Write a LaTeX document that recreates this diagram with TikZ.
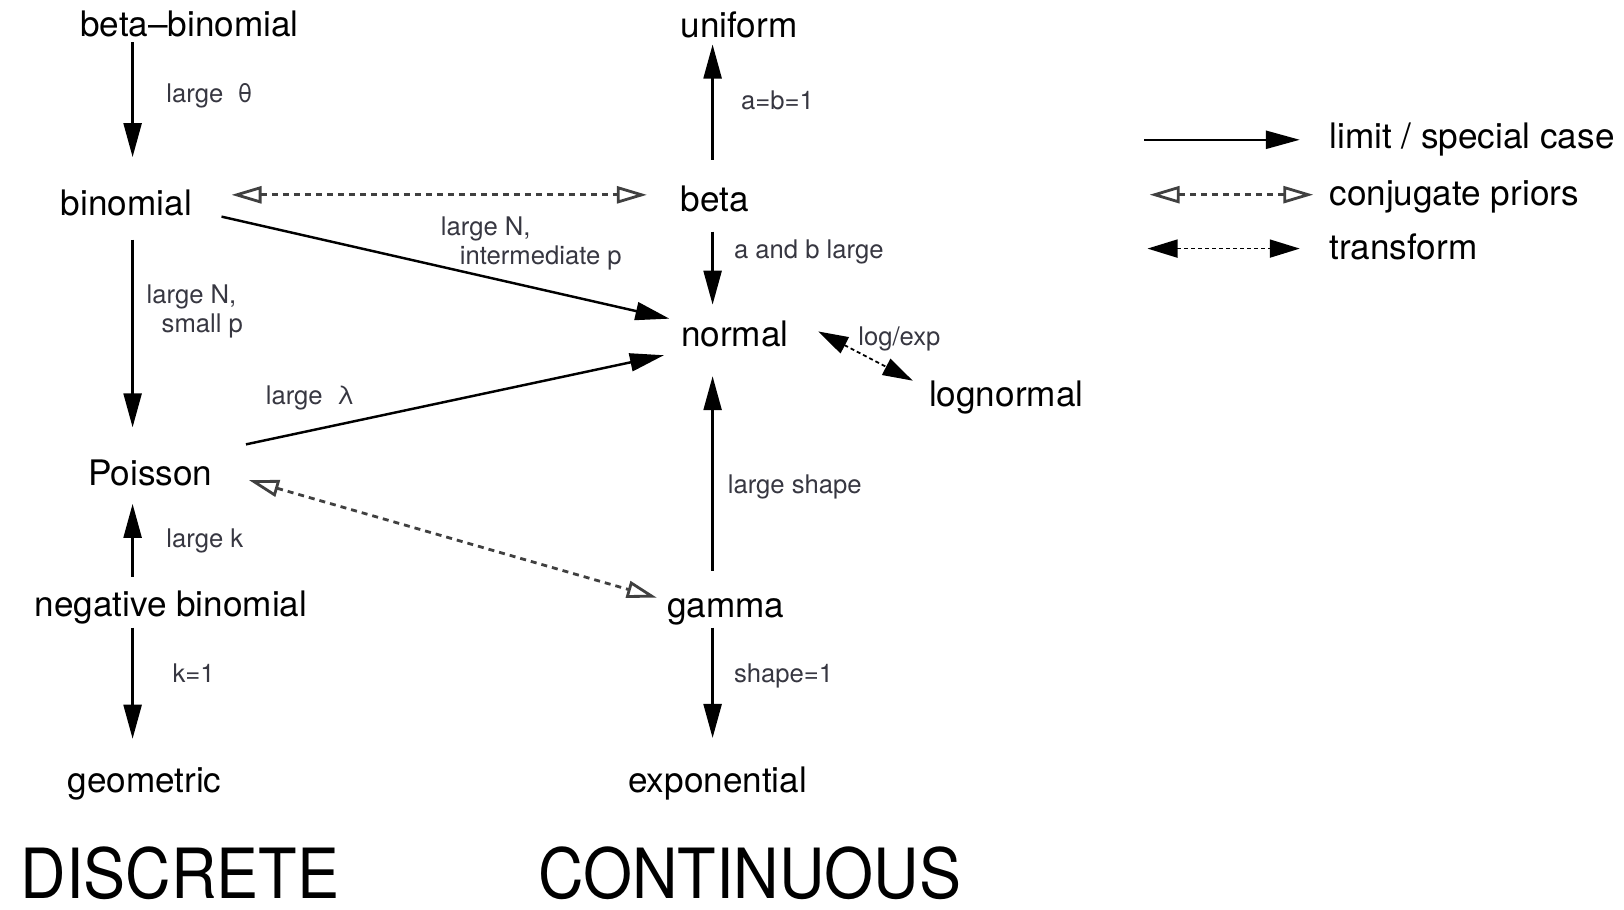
\documentclass[tikz,border=0pt]{standalone}
\usepackage{fontspec}
\setmainfont{TeX Gyre Heros}
\usetikzlibrary{arrows.meta, calc}

\begin{document}
\begin{tikzpicture}[
    dist/.style={inner sep=0pt, anchor=base, font=\fontsize{10}{12}\selectfont},
    legtext/.style={dist, anchor=base west},
    header/.style={inner sep=0pt, anchor=base, xscale=0.91, font=\fontsize{19.7}{23}\selectfont},
    lbl/.style={inner sep=0pt, anchor=base west, align=left, text=lblgray, font=\fontsize{7.3}{8.2}\selectfont},
    limitarrow/.style={-{Triangle[length=0.34cm, width=0.18cm]}, line width=0.7pt},
    conjarrow/.style={{Triangle[open, length=0.3cm, width=0.17cm]}-{Triangle[open, length=0.3cm, width=0.17cm]},
        draw=black!75, line width=0.8pt, dash pattern=on 0.06cm off 0.05cm},
    transarrow/.style={{Triangle[length=0.3cm, width=0.18cm]}-{Triangle[length=0.3cm, width=0.18cm]},
        line width=0.5pt, dash pattern=on 0.04cm off 0.03cm}
]
    % Define colors
    \definecolor{lblgray}{RGB}{55, 55, 65}

    % Frame
    \useasboundingbox (0,0) rectangle (16.24,-9.10);

    % Discrete distributions
    \node[dist] (betabin) at (1.895,-0.362) {beta--binomial};
    \node[dist] (binomial) at (1.264,-2.154) {binomial};
    \node[dist] (poisson) at (1.502,-4.857) {Poisson};
    \node[dist] (negbin) at (1.709,-6.162) {negative binomial};
    \node[dist] (geometric) at (1.445,-7.923) {geometric};

    % Continuous distributions
    \node[dist] (uniform) at (7.390,-0.373) {uniform};
    \node[dist] (beta) at (7.146,-2.113) {beta};
    \node[dist] (normal) at (7.348,-3.470) {normal};
    \node[dist] (lognormal) at (10.062,-4.070) {lognormal};
    \node[dist] (gamma) at (7.260,-6.173) {gamma};
    \node[dist] (exponential) at (7.177,-7.923) {exponential};

    % Headers
    \node[header] (discrete) at (1.802,-8.99) {DISCRETE};
    \node[header] (continuous) at (7.498,-8.99) {CONTINUOUS};

    % Arrow columns
    \coordinate (discx) at (1.326,0);
    \coordinate (contx) at (7.126,0);

    % Limits and special cases, discrete side
    \draw[limitarrow, shorten <=0.05cm, shorten >=0.32cm] (betabin.south -| discx) -- (binomial.north -| discx);
    \draw[limitarrow, shorten <=0.23cm, shorten >=0.32cm] (binomial.south -| discx) -- (poisson.north -| discx);
    \draw[limitarrow, shorten <=0.13cm, shorten >=0.17cm] (negbin.north -| discx) -- (poisson.south -| discx);
    \draw[limitarrow, shorten <=0.03cm, shorten >=0.28cm] (negbin.south -| discx) -- (geometric.north -| discx);

    % Limits and special cases, continuous side
    \draw[limitarrow, shorten <=0.25cm, shorten >=0.06cm] (beta.north -| contx) -- (uniform.south -| contx);
    \draw[limitarrow, shorten <=0.19cm, shorten >=0.16cm] (beta.south -| contx) -- (normal.north -| contx);
    \draw[limitarrow, shorten <=0.27cm, shorten >=0.28cm] (gamma.north -| contx) -- (normal.south -| contx);
    \draw[limitarrow, shorten <=0.02cm, shorten >=0.28cm] (gamma.south -| contx) -- (exponential.north -| contx);

    % Limits across
    \draw[limitarrow] ($(binomial.south east)+(0.29,0)$) -- ($(normal.north west)+(-0.11,0.02)$);
    \draw[limitarrow] ($(poisson.north east)+(0.33,0.15)$) -- ($(normal.south west)+(-0.165,-0.07)$);

    % Conjugate priors
    \draw[conjarrow, shorten <=0.39cm, shorten >=0.33cm] ([yshift=0.08cm]binomial.east) -- ([yshift=0.08cm]binomial.east -| beta.west);
    \draw[conjarrow] ($(poisson.east)+(0.36,-0.07)$) -- ($(gamma.north west)+(-0.1,0)$);

    % Transform
    \draw[transarrow] ($(normal.east)+(0.29,0.03)$) -- ($(lognormal.north west)+(-0.156,0)$);

    % Arrow labels
    \node[lbl] (lbltheta) at (1.657,-1.03) {large~~θ};
    \node[lbl] (lblab) at (7.405,-1.095) {a=b=1};
    \node[lbl, anchor=north west] (lblinter) at (4.402,-2.163) {large N,\\\hspace*{0.19cm}intermediate p};
    \node[lbl] (lblablarge) at (7.333,-2.585) {a and b large};
    \node[lbl, anchor=north west] (lblsmall) at (1.460,-2.843) {large N,\\\hspace*{0.15cm}small p};
    \node[lbl] (lbllog) at (8.576,-3.455) {log/exp};
    \node[lbl] (lbllambda) at (2.651,-4.045) {large~~λ};
    \node[lbl] (lblshape) at (7.271,-4.935) {large shape};
    \node[lbl] (lblk) at (1.657,-5.475) {large k};
    \node[lbl] (lblkone) at (1.719,-6.83) {k=1};
    \node[lbl] (lblshapeone) at (7.333,-6.83) {shape=1};

    % Legend
    \node[legtext] (leglimit) at (13.288,-1.481) {limit / special case};
    \node[legtext] (legconj) at (13.288,-2.051) {conjugate priors};
    \node[legtext] (legtrans) at (13.288,-2.600) {transform};
    \coordinate (leglimitstart) at (11.444,-1.398);
    \coordinate (legconjstart) at (11.496,-1.947);
    \coordinate (legtransstart) at (11.475,-2.486);
    \draw[limitarrow, shorten >=0.29cm] (leglimitstart) -- (leglimitstart -| leglimit.west);
    \draw[conjarrow, shorten >=0.155cm] (legconjstart) -- (legconjstart -| legconj.west);
    \draw[transarrow, shorten >=0.29cm] (legtransstart) -- (legtransstart -| legtrans.west);

\end{tikzpicture}
\end{document}
